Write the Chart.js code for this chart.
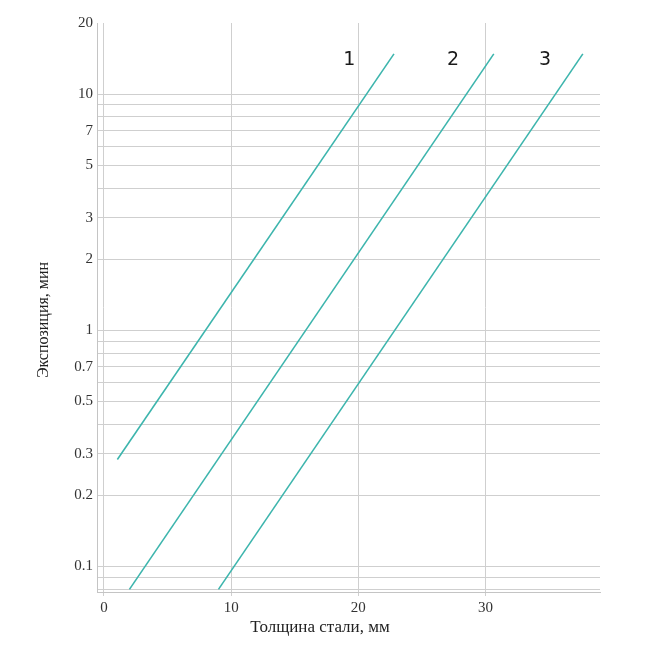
<!DOCTYPE html>
<html>
<head>
<meta charset="utf-8">
<script src="https://cdn.jsdelivr.net/npm/chart.js@4/dist/chart.umd.min.js"></script>
<style>
  html, body { margin: 0; padding: 0; background: #fff; }
  #wrap { width: 646px; height: 652px; }
</style>
</head>
<body>
<div id="wrap"><canvas id="myChart" width="646" height="652"></canvas></div>
<script>
// exposure vs steel thickness, three curves on a log scale

const curveNames = ['1', '2', '3'];
const curve1X = [1.05, 22.8];   // thickness, mm
const curve1Y = [0.284, 14.8];  // exposure, min
const curve2X = [2.0, 30.65];
const curve2Y = [0.08, 14.8];
const curve3X = [9.0, 37.65];
const curve3Y = [0.08, 14.8];

// where the curve numbers sit (data coords)
const nameX = [19.28, 27.44, 34.67];
const nameY = [13.9, 13.9, 13.9];

const xTicks = [0, 10, 20, 30];
const yGrid = [20, 10, 9, 8, 7, 6, 5, 4, 3, 2, 1, 0.9, 0.8, 0.7, 0.6, 0.5, 0.4, 0.3, 0.2, 0.1, 0.09, 0.08];
const yLabels = [20, 10, 7, 5, 3, 2, 1, 0.7, 0.5, 0.3, 0.2, 0.1];

const xTitle = 'Толщина стали, мм';
const yTitle = 'Экспозиция, мин';

const lineColor = '#3db5ad';
const serif = '"Liberation Serif", "Times New Roman", serif';

function toPoints(xs, ys) {
    return xs.map((x, i) => ({x: x, y: ys[i]}));
}

// draws curve numbers and axis titles
const textPlugin = {
    id: 'textPlugin',
    afterDraw(chart) {
        const ctx = chart.ctx;
        const xs = chart.scales.x;
        const ys = chart.scales.y;
        ctx.save();
        ctx.fillStyle = '#1a1a1a';
        ctx.font = '19px "DejaVu Sans", Verdana, sans-serif';
        ctx.textAlign = 'center';
        ctx.textBaseline = 'middle';
        curveNames.forEach((n, i) => {
            ctx.fillText(n, xs.getPixelForValue(nameX[i]), ys.getPixelForValue(nameY[i]));
        });

        ctx.fillStyle = '#222';
        ctx.font = '17px ' + serif;
        ctx.fillText(xTitle, 320, 628);

        ctx.font = '16px ' + serif;
        ctx.translate(44, 320);
        ctx.rotate(-Math.PI / 2);
        ctx.fillText(yTitle, 0, 0);
        ctx.restore();
    }
};

const ctx = document.getElementById('myChart');
const myChart = new Chart(ctx, {
    type: 'line',
    data: {
        datasets: [
            { label: curveNames[0], data: toPoints(curve1X, curve1Y) },
            { label: curveNames[1], data: toPoints(curve2X, curve2Y) },
            { label: curveNames[2], data: toPoints(curve3X, curve3Y) }
        ].map(d => Object.assign(d, {
            borderColor: lineColor,
            backgroundColor: lineColor,
            borderWidth: 1.6,
            pointRadius: 0,
            tension: 0,
            fill: false
        }))
    },
    options: {
        responsive: false,
        animation: false,
        layout: { padding: { top: 23, right: 46, left: 0, bottom: 0 } },
        plugins: {
            legend: { display: false },
            tooltip: { enabled: false }
        },
        scales: {
            x: {
                type: 'linear',
                min: -0.55,
                max: 39,
                afterBuildTicks: s => { s.ticks = xTicks.map(v => ({value: v})); },
                afterFit: s => { s.height = 60; },
                grid: { color: '#cfcfcf', lineWidth: 1, tickLength: 4 },
                border: { color: '#c4c4c4', width: 1 },
                ticks: {
                    color: '#333',
                    padding: 3,
                    maxRotation: 0,
                    font: { family: serif, size: 15 }
                }
            },
            y: {
                type: 'logarithmic',
                min: 0.078,
                max: 20,
                afterBuildTicks: s => { s.ticks = yGrid.map(v => ({value: v})); },
                afterFit: s => { s.width = 97; },
                grid: {
                    drawTicks: false,
                    lineWidth: 1,
                    color: c => (c.tick && c.tick.value === 20) ? 'rgba(0,0,0,0)' : '#cfcfcf'
                },
                border: { color: '#c4c4c4', width: 1 },
                ticks: {
                    color: '#333',
                    padding: 4,
                    autoSkip: false,
                    font: { family: serif, size: 15 },
                    callback: v => yLabels.includes(v) ? String(v) : ''
                }
            }
        }
    },
    plugins: [textPlugin]
});
</script>
</body>
</html>
